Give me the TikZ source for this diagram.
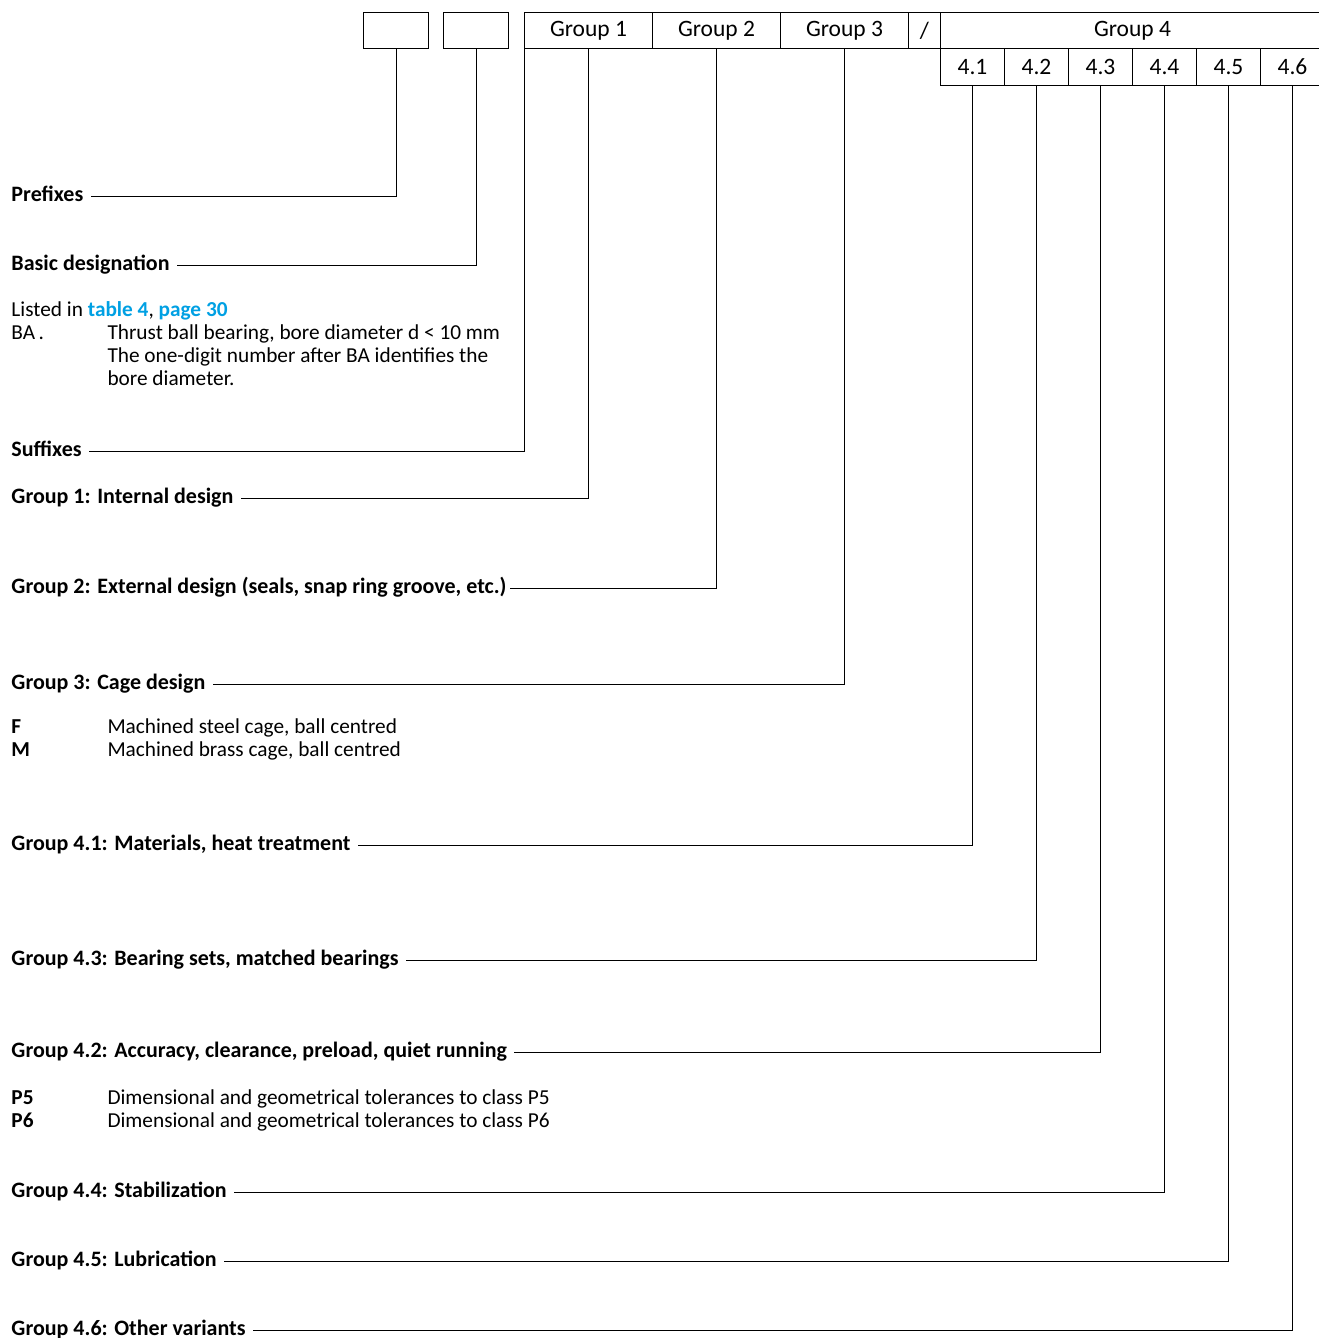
\documentclass[tikz,border=0pt]{standalone}
\usepackage{fontspec}
\setmainfont{Carlito}
\definecolor{linkblue}{RGB}{0,160,227}
\begin{document}
\begin{tikzpicture}[x=1pt,y=-1pt,line width=1pt,
    cell/.style={draw,anchor=north west,inner sep=0pt,font=\fontsize{23.5}{26}\selectfont},
    lbl/.style={anchor=west,inner ysep=0pt,inner xsep=7pt,text height=15pt,text depth=5pt,font=\fontsize{22}{25}\selectfont\bfseries},
    txt/.style={anchor=base west,inner sep=0pt,font=\fontsize{21.3}{23}\selectfont},
    key/.style={txt,font=\fontsize{21.3}{23}\selectfont\bfseries}]
    \useasboundingbox (0,0) rectangle (1319,1338);
    % designation boxes
    \node[cell,minimum width=65,minimum height=36] (prefixbox) at (363,12) {};
    \node[cell,minimum width=65,minimum height=36] (basicbox) at (443,12) {};
    \node[cell,minimum width=128,minimum height=36] (grpone) at (524,12) {Group 1};
    \node[cell,minimum width=128,minimum height=36] (grptwo) at (652,12) {Group 2};
    \node[cell,minimum width=128,minimum height=36] (grpthree) at (780,12) {Group 3};
    \node[cell,minimum width=32,minimum height=36] (slash) at (908,12) {/};
    \node[cell,minimum width=384,minimum height=36] (grpfour) at (940,12) {Group 4};
    \foreach \i in {1,...,6}
        \node[cell,minimum width=64,minimum height=37] (sub\i) at (876+64*\i,48) {4.\i};
    % labels
    \node[lbl] (prefixes) at (4,196) {Prefixes};
    \node[lbl] (basic) at (4,265) {Basic designation};
    \node[lbl] (suffixes) at (4,451) {Suffixes};
    \node[lbl] (lblone) at (4,498) {Group 1: Internal design};
    \node[lbl,inner xsep=3pt] (lbltwo) at (8,588) {Group 2: External design (seals, snap ring groove, etc.)};
    \node[lbl] (lblthree) at (4,684) {Group 3: Cage design};
    \node[lbl] (lblfourone) at (4,845) {Group 4.1: Materials, heat treatment};
    \node[lbl] (lblfourthree) at (4,960) {Group 4.3: Bearing sets, matched bearings};
    \node[lbl] (lblfourtwo) at (4,1052) {Group 4.2: Accuracy, clearance, preload, quiet running};
    \node[lbl] (lblfourfour) at (4,1192) {Group 4.4: Stabilization};
    \node[lbl] (lblfourfive) at (4,1261) {Group 4.5: Lubrication};
    \node[lbl] (lblfoursix) at (4,1330) {Group 4.6: Other variants};
    % notes
    \node[txt] (listed) at (11,316) {Listed in {\color{linkblue}\bfseries table 4}, {\color{linkblue}\bfseries page 30}};
    \node[txt] (bakey) at (11,339) {BA\,.};
    \node[txt] (badesc) at (107,339) {Thrust ball bearing, bore diameter d < 10 mm};
    \node[txt] (badesctwo) at (107,362) {The one-digit number after BA identifies the};
    \node[txt] (badescthree) at (107,385) {bore diameter.};
    \node[key] (fkey) at (11,733) {F};
    \node[txt] (fdesc) at (107,733) {Machined steel cage, ball centred};
    \node[key] (mkey) at (11,756) {M};
    \node[txt] (mdesc) at (107,756) {Machined brass cage, ball centred};
    \node[key] (pfivekey) at (11,1104) {P5};
    \node[txt] (pfivedesc) at (107,1104) {Dimensional and geometrical tolerances to class P5};
    \node[key] (psixkey) at (11,1127) {P6};
    \node[txt] (psixdesc) at (107,1127) {Dimensional and geometrical tolerances to class P6};
    % connectors
    \draw (prefixbox.south) |- (prefixes.east);
    \draw (basicbox.south) |- (basic.east);
    \draw (grpone.south west) |- (suffixes.east);
    \draw (grpone.south) |- (lblone.east);
    \draw (grptwo.south) |- (lbltwo.east);
    \draw (grpthree.south) |- (lblthree.east);
    \draw (sub1.south) |- (lblfourone.east);
    \draw (sub2.south) |- (lblfourthree.east);
    \draw (sub3.south) |- (lblfourtwo.east);
    \draw (sub4.south) |- (lblfourfour.east);
    \draw (sub5.south) |- (lblfourfive.east);
    \draw (sub6.south) |- (lblfoursix.east);
\end{tikzpicture}
\end{document}
